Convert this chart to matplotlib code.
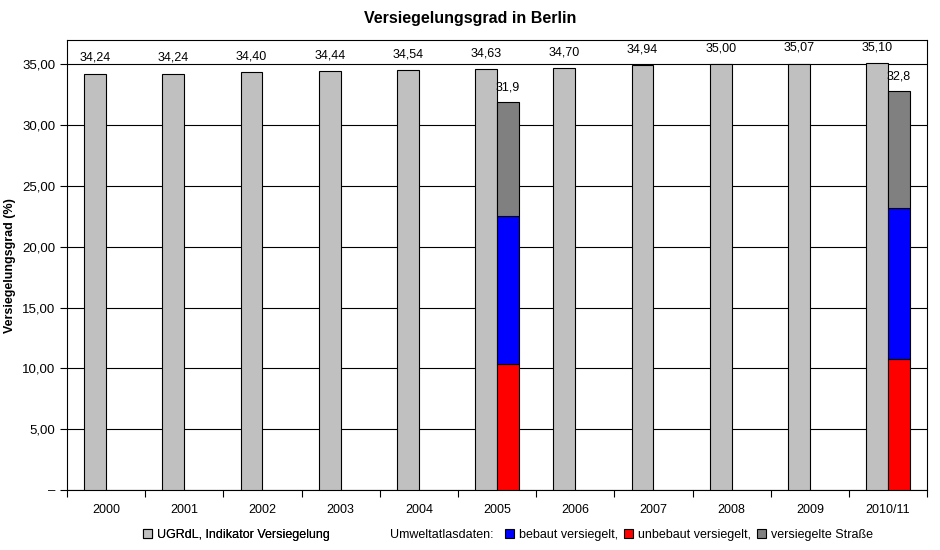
import matplotlib
matplotlib.use("Agg")
import matplotlib.pyplot as plt
from matplotlib.patches import Patch
import numpy as np

plt.rcParams['font.family'] = ['Liberation Sans', 'DejaVu Sans']

years = ['2000', '2001', '2002', '2003', '2004', '2005', '2006', '2007', '2008', '2009', '2010/11']
ugrdl = [34.24, 34.24, 34.40, 34.44, 34.54, 34.63, 34.70, 34.94, 35.00, 35.07, 35.10]

# Umweltatlas stacked bars (only 2005 and 2010/11)
atlas_years = ['2005', '2010/11']
unbebaut = [10.4, 10.8]
bebaut = [12.1, 12.4]
strasse = [9.4, 9.6]
atlas_total = [31.9, 32.8]

fig = plt.figure(figsize=(9.4, 5.5), dpi=100)
ax = fig.add_axes([0.0713, 0.109, 0.915, 0.818])

x = np.arange(len(years))
w = 0.28
ax.bar(x - w / 2, ugrdl, w, color='#c0c0c0', edgecolor='black', linewidth=0.8, zorder=3)
for xi, v in zip(x, ugrdl):
    ax.annotate(f"{v:.2f}".replace('.', ','), (xi - w / 2, v), xytext=(0, 7), textcoords='offset points',
                ha='center', va='bottom', fontsize=9)

xa = np.array([years.index(y) for y in atlas_years]) + w / 2
ax.bar(xa, unbebaut, w, color='#ff0000', edgecolor='black', linewidth=0.8, zorder=3)
ax.bar(xa, bebaut, w, bottom=unbebaut, color='#0000ff', edgecolor='black', linewidth=0.8, zorder=3)
ax.bar(xa, strasse, w, bottom=np.add(unbebaut, bebaut), color='#808080', edgecolor='black', linewidth=0.8, zorder=3)
for xi, v in zip(xa, atlas_total):
    ax.annotate(f"{v:.1f}".replace('.', ','), (xi, v), xytext=(0, 6), textcoords='offset points',
                ha='center', va='bottom', fontsize=9)

ax.set_xlim(-0.5, len(years) - 0.5)
ax.set_ylim(0, 37)
yt = np.arange(0, 36, 5)
ax.set_yticks(yt)
ax.set_yticklabels(['–'] + [f"{v:.2f}".replace('.', ',') for v in yt[1:]], fontsize=9.5)
ax.yaxis.grid(True, color='black', linewidth=0.8, zorder=0)
ax.set_axisbelow(True)
ax.tick_params(axis='y', direction='out', length=5, width=0.8)

ax.set_xticks(x)
ax.set_xticklabels(years, fontsize=9)
ax.tick_params(axis='x', length=0, pad=10)
ax.set_xticks(np.arange(-0.5, len(years)), minor=True)
ax.tick_params(axis='x', which='minor', direction='out', length=5, width=0.8)

for s in ax.spines.values():
    s.set_linewidth(0.8)

ax.set_ylabel('Versiegelungsgrad (%)', fontsize=9, fontweight='bold', labelpad=4)
fig.text(0.5, 0.967, 'Versiegelungsgrad in Berlin', ha='center', va='center', fontsize=11.5, fontweight='bold')

# legend: UGRdL entry on the left, Umweltatlas entries on the right
leg1 = fig.legend([Patch(facecolor='#c0c0c0', edgecolor='black', linewidth=0.8)],
                  ['UGRdL, Indikator Versiegelung'], loc='center left', bbox_to_anchor=(0.152, 0.027),
                  frameon=False, fontsize=9, handlelength=0.7, handleheight=0.7, handletextpad=0.4,
                  borderpad=0, borderaxespad=0)
fig.add_artist(leg1)
fig.text(0.415, 0.027, 'Umweltatlasdaten:', ha='left', va='center', fontsize=9)
atlas_handles = [
    Patch(facecolor='#0000ff', edgecolor='black', linewidth=0.8),
    Patch(facecolor='#ff0000', edgecolor='black', linewidth=0.8),
    Patch(facecolor='#808080', edgecolor='black', linewidth=0.8),
]
atlas_labels = ['bebaut versiegelt,', 'unbebaut versiegelt,', 'versiegelte Straße']
fig.legend(atlas_handles, atlas_labels, loc='center left', bbox_to_anchor=(0.537, 0.027), ncol=3,
           frameon=False, fontsize=9, handlelength=0.7, handleheight=0.7, handletextpad=0.4,
           columnspacing=0.5, borderpad=0, borderaxespad=0)

fig.savefig('out.png', dpi=100)
